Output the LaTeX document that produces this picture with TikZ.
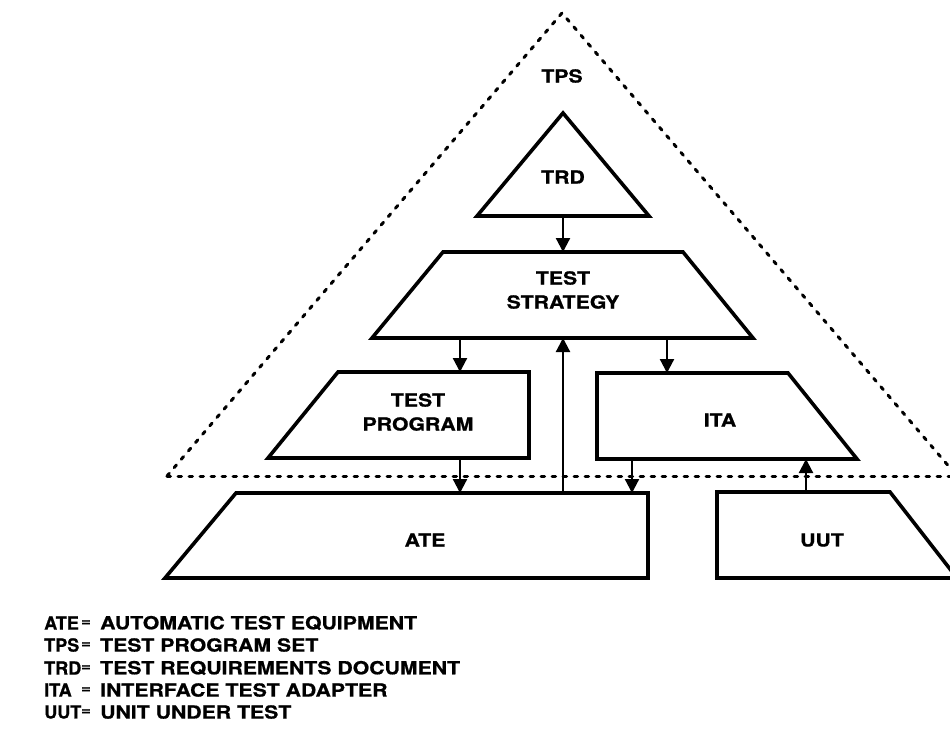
\documentclass[tikz,border=0pt]{standalone}
\usepackage{fontspec}
\usepackage{graphicx}
\setmainfont[FakeStretch=1.18,FakeBold=0.8]{TeX Gyre Heros}
\usetikzlibrary{arrows.meta}
\begin{document}
\begin{tikzpicture}[x=1pt,y=-1pt,
  block/.style={draw=black,line width=3.6pt,line join=miter},
  boundary/.style={draw=black,line width=3pt,line cap=round,dash pattern=on 3.5pt off 7.5pt},
  flow/.style={draw=black,line width=2.2pt,-{Triangle[width=14pt,length=14pt]}},
  lbl/.style={font=\fontsize{18}{24}\selectfont\bfseries,align=center,inner sep=0pt},
  key/.style={font=\fontsize{18}{22}\selectfont\bfseries,anchor=west,inner sep=0pt},
  eqsign/.style={font=\fontsize{14}{22}\selectfont\bfseries,inner sep=0pt}]
\useasboundingbox (0,0) rectangle (950,737);
\clip (0,0) rectangle (950,737);
\fill[white] (0,0) rectangle (950,737);

% TPS boundary: dotted triangle with its dotted base line
\coordinate (apex) at (562,13);
\coordinate (tpsL) at (167,476);
\coordinate (tpsR) at (957,476);
\draw[boundary] (tpsL) -- (apex) -- (tpsR);
\draw[boundary] (tpsL) -- (tpsR);
\node[lbl] (tps) at (562,76) {TPS};

% TRD triangle
\draw[block] (563,113) -- (649,216) -- (477,216) -- cycle;
\node[lbl] (trd) at (563,177) {TRD};
\coordinate (trdB) at (563,216);

% Test strategy trapezoid
\draw[block] (443,252) -- (683,252) -- (753,338) -- (372,338) -- cycle;
\node[lbl] (strat) at (563,290) {TEST\\STRATEGY};
\coordinate (stratT) at (563,252);
\coordinate (stratB1) at (460,338);
\coordinate (stratB2) at (563,338);
\coordinate (stratB3) at (667,338);

% Test program
\draw[block] (338,372) -- (529,372) -- (529,458) -- (268,458) -- cycle;
\node[lbl] (prog) at (418,412) {TEST\\PROGRAM};
\coordinate (progT) at (460,372);
\coordinate (progB) at (460,458);

% ITA
\draw[block] (597,373) -- (788,373) -- (857,459) -- (597,459) -- cycle;
\node[lbl] (ita) at (720,420) {ITA};
\coordinate (itaT) at (667,373);
\coordinate (itaB1) at (632,459);
\coordinate (itaB2) at (806,459);

% ATE
\draw[block] (236,493) -- (648,493) -- (648,578) -- (165,578) -- cycle;
\node[lbl] (ate) at (425,540) {ATE};
\coordinate (ateT1) at (460,493);
\coordinate (ateT2) at (563,493);
\coordinate (ateT3) at (632,493);

% UUT
\draw[block] (717,492) -- (890,492) -- (957,578) -- (717,578) -- cycle;
\node[lbl] (uut) at (822,540) {UUT};
\coordinate (uutT) at (806,492);

% Connectors
\draw[flow] (trdB) -- (stratT);
\draw[flow] (stratB1) -- (progT);
\draw[flow] (stratB3) -- (itaT);
\draw[flow] (ateT2) -- (stratB2);
\draw[flow] (progB) -- (ateT1);
\draw[flow] (itaB1) -- (ateT3);
\draw[flow] (uutT) -- (itaB2);

% Legend
\foreach \ab/\df/\yy [count=\i] in {ATE/AUTOMATIC TEST EQUIPMENT/623,
    TPS/TEST PROGRAM SET/645, TRD/TEST REQUIREMENTS DOCUMENT/668,
    ITA/INTERFACE TEST ADAPTER/690, UUT/UNIT UNDER TEST/712}{
  \node[key] (ab\i) at (44,\yy) {\scalebox{0.85}[1]{\ab}};
  \node[eqsign] (eq\i) at (86,\yy) {=};
  \node[key] (df\i) at (100,\yy) {\df};
}
\end{tikzpicture}
\end{document}
